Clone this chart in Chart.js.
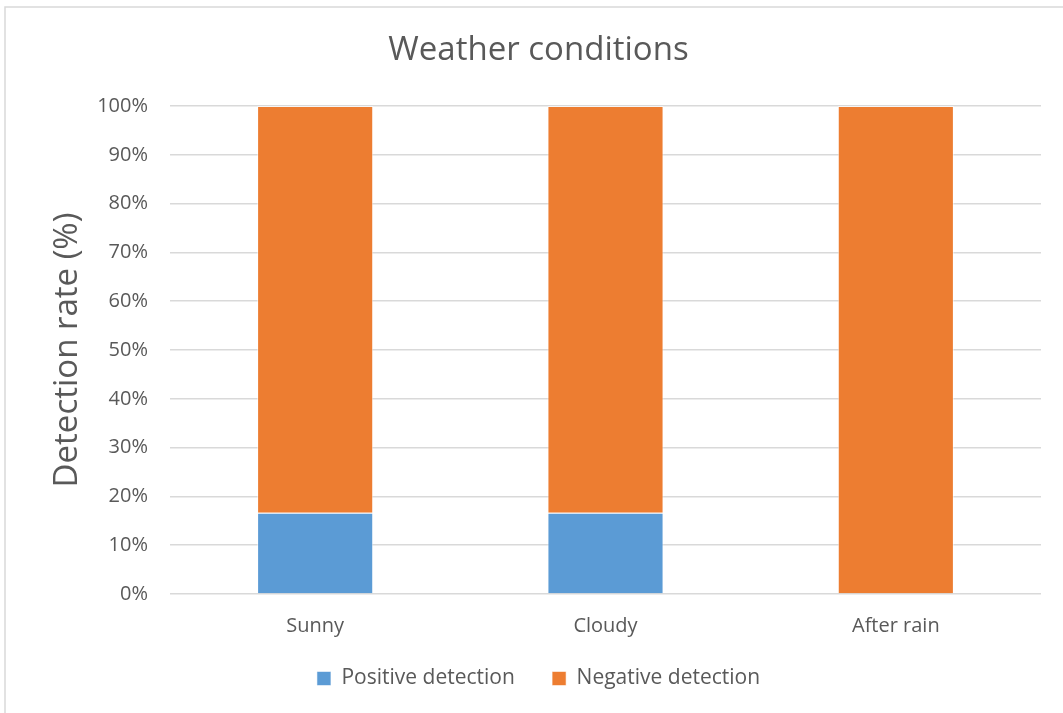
<!DOCTYPE html>
<html>
<head>
<meta charset="utf-8">
<script src="https://cdn.jsdelivr.net/npm/chart.js@4/dist/chart.umd.min.js"></script>
<style>
  html, body { margin: 0; padding: 0; background: #ffffff; }
  #wrap { width: 1063px; height: 713px; position: relative; }
</style>
</head>
<body>
<div id="wrap"><canvas id="chart" width="1063" height="713"></canvas></div>
<script>
// Weather conditions vs. detection outcome (stacked to 100%)
const categories = ['Sunny', 'Cloudy', 'After rain'];
const positiveDetection = [16.67, 16.67, 0];
const negativeDetection = [83.33, 83.33, 100];
const yTickValues = [0, 10, 20, 30, 40, 50, 60, 70, 80, 90, 100];

const FONT = "'Open Sans', 'Noto Sans', sans-serif";
const TEXT = '#595959';
const GRID = '#d9d9d9';

// light frame around the chart object
const framePlugin = {
  id: 'frame',
  beforeDraw(chart) {
    const ctx = chart.ctx;
    ctx.save();
    ctx.strokeStyle = '#d9d9d9';
    ctx.lineWidth = 1.5;
    ctx.beginPath();
    ctx.moveTo(5, 720);
    ctx.lineTo(5, 7);
    ctx.lineTo(1070, 7);
    ctx.stroke();
    ctx.restore();
  }
};

// default legend items, with a wider gap between neighbouring entries
function legendItems(chart) {
  const items = Chart.defaults.plugins.legend.labels.generateLabels(chart);
  items.forEach((it, i) => {
    if (i < items.length - 1) it.text = it.text + '     ';
  });
  return items;
}

new Chart(document.getElementById('chart'), {
  type: 'bar',
  data: {
    labels: categories,
    datasets: [
      {
        label: 'Positive detection',
        data: positiveDetection,
        backgroundColor: '#5b9bd5',
        borderColor: 'rgba(255,255,255,0.55)',
        borderWidth: 1,
        categoryPercentage: 1.0,
        barPercentage: 0.4
      },
      {
        label: 'Negative detection',
        data: negativeDetection,
        backgroundColor: '#ed7d31',
        borderColor: 'rgba(255,255,255,0.55)',
        borderWidth: 1,
        categoryPercentage: 1.0,
        barPercentage: 0.4
      }
    ]
  },
  options: {
    responsive: false,
    animation: false,
    devicePixelRatio: 1,
    layout: { padding: { left: 36, right: 22, top: 0, bottom: 14 } },
    plugins: {
      title: {
        display: true,
        text: 'Weather conditions',
        color: TEXT,
        font: { family: FONT, size: 33, weight: 'normal' },
        padding: { top: 31, bottom: 35.4 }
      },
      legend: {
        position: 'bottom',
        labels: {
          color: TEXT,
          font: { family: FONT, size: 21 },
          boxWidth: 14,
          boxHeight: 14,
          padding: 10,
          generateLabels: legendItems
        }
      },
      tooltip: { enabled: false }
    },
    scales: {
      x: {
        stacked: true,
        grid: { display: false, drawTicks: false },
        border: { display: false },
        ticks: { color: TEXT, font: { family: FONT, size: 20 }, padding: 20 },
        afterFit(scale) { scale.height = 64; }
      },
      y: {
        stacked: true,
        min: 0,
        max: 100,
        afterBuildTicks(scale) { scale.ticks = yTickValues.map(v => ({ value: v })); },
        grid: { color: GRID, lineWidth: 1.5, drawTicks: false },
        border: { display: false },
        ticks: {
          color: TEXT,
          font: { family: FONT, size: 20 },
          padding: 22,
          callback: v => v + '%'
        },
        title: {
          display: true,
          text: 'Detection rate (%)',
          color: TEXT,
          font: { family: FONT, size: 33 },
          padding: { top: 12, bottom: 0 }
        },
        afterFit(scale) { scale.width = 134; }
      }
    }
  },
  plugins: [framePlugin]
});
</script>
</body>
</html>
